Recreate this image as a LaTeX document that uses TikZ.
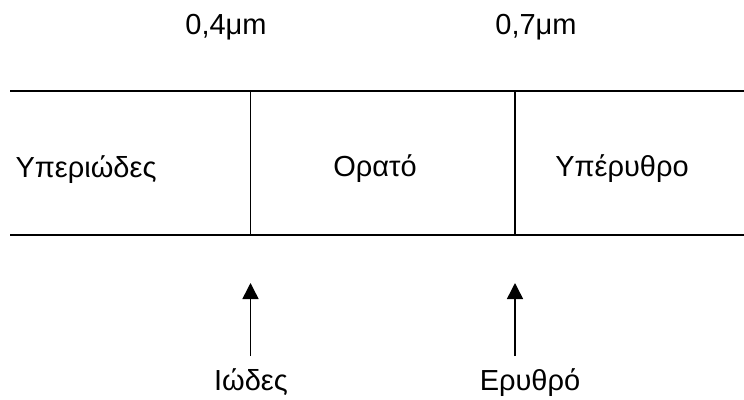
\documentclass[tikz,border=0pt]{standalone}
\usepackage{fontspec}
\setmainfont{Liberation Sans}
\usetikzlibrary{arrows.meta}
\begin{document}
\begin{tikzpicture}[x=1pt,y=-1pt,
  line/.style={line width=1.5pt},
  lbl/.style={font=\fontsize{29}{34}\selectfont, inner sep=0pt, anchor=base},
  arr/.style={line width=1.5pt,-{Triangle[length=16pt,width=16pt]}}]
\useasboundingbox (0,0) rectangle (744,399);
% spectrum band
\coordinate (tl) at (10,91);
\coordinate (tr) at (744,91);
\coordinate (bl) at (10,235);
\coordinate (br) at (744,235);
\coordinate (v1t) at (250.5,91);
\coordinate (v1b) at (250.5,235);
\coordinate (v2t) at (515,91);
\coordinate (v2b) at (515,235);
\draw[line] (tl) -- (tr);
\draw[line] (bl) -- (br);
\draw[line] (v1t) -- (v1b);
\draw[line] (v2t) -- (v2b);
% wavelength limits
\node[lbl] (w1) at (226,34) {0,4μm};
\node[lbl] (w2) at (536,34) {0,7μm};
% regions
\node[lbl] (uv) at (86,177) {Υπεριώδες};
\node[lbl] (vis) at (375,176) {Ορατό};
\node[lbl] (ir) at (622,176) {Υπέρυθρο};
% boundary colours
\node[lbl] (violet) at (251,390) {Ιώδες};
\node[lbl] (red) at (530,390) {Ερυθρό};
\coordinate (a1s) at (250.5,356);
\coordinate (a1e) at (250.5,283);
\coordinate (a2s) at (515,356);
\coordinate (a2e) at (515,283);
\draw[arr] (a1s) -- (a1e);
\draw[arr] (a2s) -- (a2e);
\end{tikzpicture}
\end{document}
